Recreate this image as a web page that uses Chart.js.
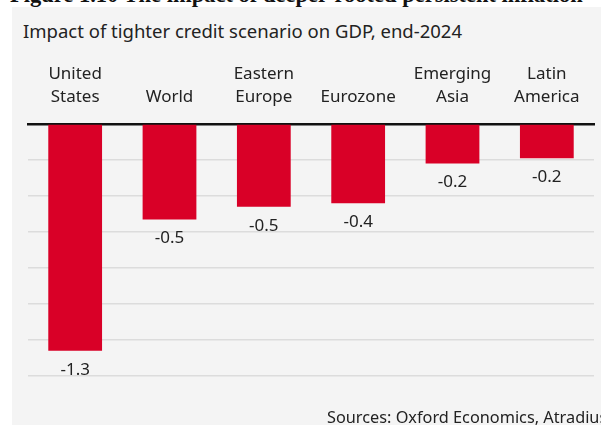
<!DOCTYPE html>
<html>
<head>
<meta charset="utf-8">
<script src="https://cdn.jsdelivr.net/npm/chart.js@4/dist/chart.umd.min.js"></script>
<style>
  body { margin: 0; background: #fff; width: 601px; height: 425px; overflow: hidden; position: relative; font-family: "Noto Sans", sans-serif; color: #222; }
  .fig { position: absolute; left: 10px; top: -16px; font: bold 22.5px "Liberation Serif", serif; line-height: 22px; white-space: nowrap; color: #111; }
  .panel { position: absolute; left: 12px; top: 7px; width: 589px; height: 418px; background: #f4f4f4; }
  .title { position: absolute; left: 23px; top: 21px; font-size: 18.5px; line-height: 20px; white-space: nowrap; }
  .source { position: absolute; left: 327px; top: 407px; font-size: 16.3px; line-height: 20px; white-space: nowrap; }
  canvas { position: absolute; left: 0; top: 0; }
</style>
</head>
<body>
<div class="fig">Figure 1.10 The impact of deeper-rooted persistent inflation</div>
<div class="panel"></div>
<div class="title">Impact of tighter credit scenario on GDP, end-2024</div>
<canvas id="myChart" width="601" height="425"></canvas>
<div class="source">Sources: Oxford Economics, Atradius</div>
<script>
// regions, in chart order
var regions = [['United', 'States'], 'World', ['Eastern', 'Europe'], 'Eurozone', ['Emerging', 'Asia'], ['Latin', 'America']]
// GDP impact, percentage points
var gdpImpact = [-1.26, -0.53, -0.46, -0.44, -0.22, -0.19]

// value labels under each bar
var barLabels = {
    id: 'barLabels',
    afterDatasetsDraw(chart) {
        var ctx = chart.ctx
        var meta = chart.getDatasetMeta(0)
        ctx.save()
        ctx.font = '17px "Noto Sans"'
        ctx.fillStyle = '#222'
        ctx.textAlign = 'center'
        ctx.textBaseline = 'middle'
        meta.data.forEach((bar, i) => {
            ctx.fillText(gdpImpact[i].toFixed(1), bar.x, bar.y + 19)
        })
        ctx.restore()
    }
}

var ctx = document.getElementById('myChart').getContext('2d');
var myChart = new Chart(ctx, {
    type: 'bar',
    data: {
        labels: regions,
        datasets: [{
            data: gdpImpact,
            backgroundColor: '#d90027',
            barPercentage: 0.57,
            categoryPercentage: 1
        }]
    },
    options: {
        responsive: false,
        animation: false,
        devicePixelRatio: 1,
        layout: { padding: { left: 28, right: 7, top: 0, bottom: 49 } },
        plugins: { legend: { display: false }, tooltip: { enabled: false } },
        scales: {
            x: {
                position: 'top',
                z: 1,
                grid: { display: false, drawTicks: false },
                border: { display: true, color: '#111', width: 2.5 },
                ticks: {
                    color: '#222',
                    padding: 15,
                    maxRotation: 0,
                    autoSkip: false,
                    font: { family: 'Noto Sans', size: 17, lineHeight: 1.35 }
                },
                afterFit(scale) { scale.height = 124 }
            },
            y: {
                min: -1.4,
                max: 0,
                ticks: { display: false, stepSize: 0.2 },
                border: { display: false },
                grid: {
                    drawTicks: false,
                    lineWidth: 1.5,
                    color: (c) => c.tick && Math.abs(c.tick.value) < 1e-9 ? 'rgba(0,0,0,0)' : '#dcdcdc'
                },
                afterFit(scale) { scale.width = 0 }
            }
        }
    },
    plugins: [barLabels]
});
</script>
</body>
</html>
